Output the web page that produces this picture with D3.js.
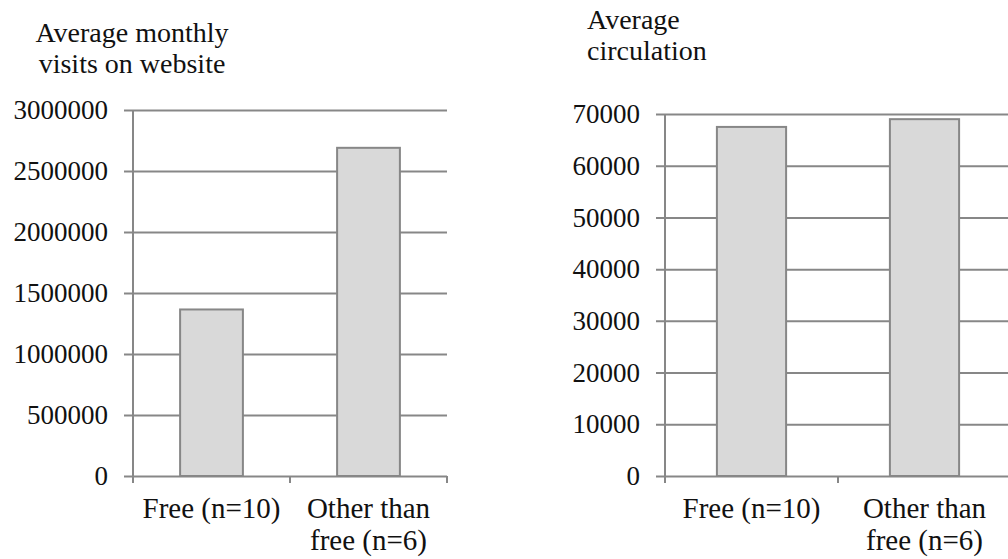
<!DOCTYPE html>
<html>
<head>
<meta charset="utf-8">
<script src="https://cdn.jsdelivr.net/npm/d3@7"></script>
<style>
  body { margin: 0; background: #fff; }
  text { font-family: "Liberation Serif", "DejaVu Serif", serif; fill: #111; }
</style>
</head>
<body>
<div id="chart"></div>
<script>
// data
var categories = ["Free (n=10)", "Other than\nfree (n=6)"];
var visitsValues = [1365000, 2690000];
var visitsTicks = [0, 500000, 1000000, 1500000, 2000000, 2500000, 3000000];
var circulationValues = [67500, 69000];
var circulationTicks = [0, 10000, 20000, 30000, 40000, 50000, 60000, 70000];

var W = 1008, H = 559;
var grey = "#878787";

var svg = d3.select("#chart").append("svg")
    .attr("width", W)
    .attr("height", H);

function drawPanel(opt) {
    var g = svg.append("g")
        .attr("transform", "translate(" + opt.left + "," + opt.top + ")");

    var y = d3.scaleLinear()
        .domain([0, d3.max(opt.ticks)])
        .range([opt.h, 0]);

    var x = d3.scaleBand()
        .domain(categories)
        .range([0, opt.w])
        .padding(0);

    //gridlines + labels, shifted left so the tick sticks out past the axis
    var yAxis = g.append("g")
        .attr("transform", "translate(-9,0)")
        .call(d3.axisLeft(y)
            .tickValues(opt.ticks)
            .tickSizeInner(-(opt.w + 9))
            .tickSizeOuter(0)
            .tickPadding(16)
            .tickFormat(d3.format("d")));
    yAxis.select(".domain").remove();
    yAxis.selectAll("line")
        .attr("stroke", grey)
        .attr("stroke-width", 2);
    yAxis.selectAll("text")
        .style("font-family", "Liberation Serif, serif")
        .style("font-size", "27px")
        .attr("fill", "#111");

    //bars
    var bw = x.bandwidth() * 0.4;
    g.selectAll("rect.bar")
        .data(opt.values)
        .enter()
        .append("rect")
        .attr("class", "bar")
        .attr("x", function(d, i){ return x(categories[i]) + (x.bandwidth() - bw) / 2; })
        .attr("y", function(d){ return y(d); })
        .attr("width", bw)
        .attr("height", function(d){ return opt.h - y(d); })
        .attr("fill", "#d9d9d9")
        .attr("stroke", grey)
        .attr("stroke-width", 2);

    //vertical axis line
    g.append("line")
        .attr("x1", 0).attr("x2", 0)
        .attr("y1", 0).attr("y2", opt.h + 7)
        .attr("stroke", grey)
        .attr("stroke-width", 2);

    //category ticks at band edges
    var edges = categories.map(function(c){ return x(c); }).concat([opt.w]);
    g.selectAll("line.xtick")
        .data(edges.slice(1))
        .enter()
        .append("line")
        .attr("class", "xtick")
        .attr("x1", function(d){ return d; })
        .attr("x2", function(d){ return d; })
        .attr("y1", opt.h)
        .attr("y2", opt.h + 7)
        .attr("stroke", grey)
        .attr("stroke-width", 2);

    //category labels
    var labels = g.selectAll("text.cat")
        .data(categories)
        .enter()
        .append("text")
        .attr("class", "cat")
        .attr("text-anchor", "middle")
        .style("font-size", "29px")
        .attr("transform", function(d){
            return "translate(" + (x(d) + x.bandwidth() / 2) + "," + (opt.h + 42) + ")";
        });
    labels.selectAll("tspan")
        .data(function(d){ return d.split("\n"); })
        .enter()
        .append("tspan")
        .attr("x", 0)
        .attr("dy", function(d, i){ return i ? 32 : 0; })
        .text(function(d){ return d; });

    //title
    var title = svg.append("text")
        .attr("text-anchor", opt.titleAnchor)
        .style("font-size", "28px")
        .attr("transform", "translate(" + opt.titleX + "," + opt.titleY + ")");
    title.selectAll("tspan")
        .data(opt.title)
        .enter()
        .append("tspan")
        .attr("x", 0)
        .attr("dy", function(d, i){ return i ? 31 : 0; })
        .text(function(d){ return d; });
}

drawPanel({
    left: 133, top: 110, w: 314, h: 366,
    values: visitsValues, ticks: visitsTicks,
    title: ["Average monthly", "visits on website"],
    titleAnchor: "middle", titleX: 132, titleY: 42
});

drawPanel({
    left: 665, top: 114, w: 346, h: 362,
    values: circulationValues, ticks: circulationTicks,
    title: ["Average", "circulation"],
    titleAnchor: "start", titleX: 587, titleY: 29
});
</script>
</body>
</html>
